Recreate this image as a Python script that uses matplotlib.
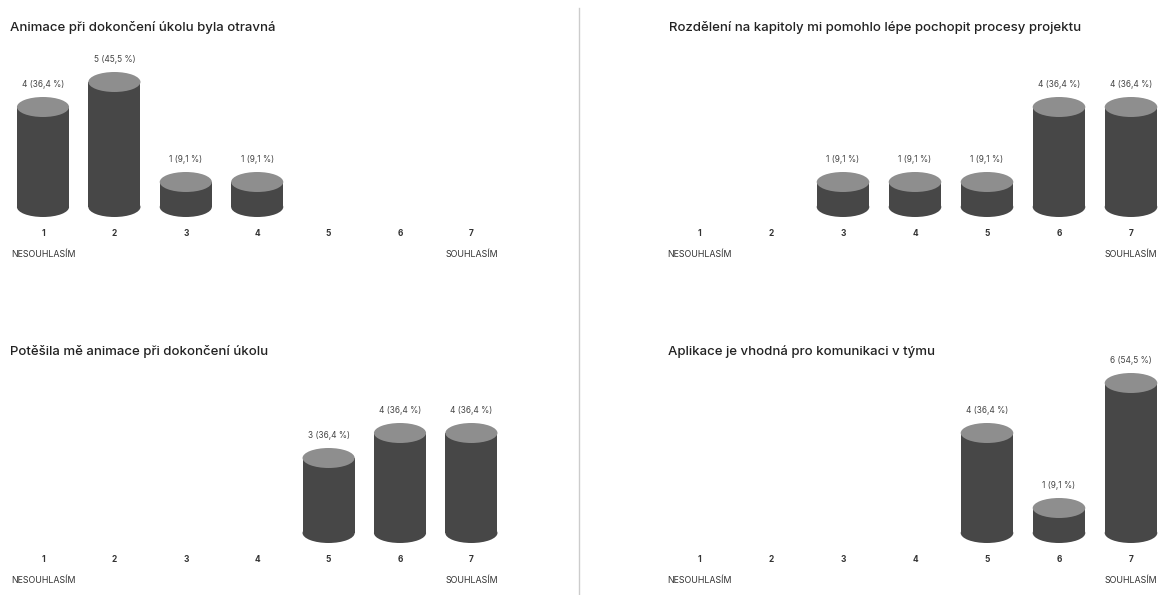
import matplotlib
matplotlib.use("Agg")
import matplotlib.pyplot as plt
from matplotlib.patches import Ellipse, Rectangle
from matplotlib.lines import Line2D

plt.rcParams["font.family"] = ["Inter", "DejaVu Sans"]

CATEGORIES = [1, 2, 3, 4, 5, 6, 7]

TITLE_1 = "Animace při dokončení úkolu byla otravná"
COUNTS_1 = [4, 5, 1, 1, 0, 0, 0]
PERCENT_1 = [36.4, 45.5, 9.1, 9.1, 0, 0, 0]

TITLE_2 = "Rozdělení na kapitoly mi pomohlo lépe pochopit procesy projektu"
COUNTS_2 = [0, 0, 1, 1, 1, 4, 4]
PERCENT_2 = [0, 0, 9.1, 9.1, 9.1, 36.4, 36.4]

TITLE_3 = "Potěšila mě animace při dokončení úkolu"
COUNTS_3 = [0, 0, 0, 0, 3, 4, 4]
PERCENT_3 = [0, 0, 0, 0, 36.4, 36.4, 36.4]

TITLE_4 = "Aplikace je vhodná pro komunikaci v týmu"
COUNTS_4 = [0, 0, 0, 0, 4, 1, 6]
PERCENT_4 = [0, 0, 0, 0, 36.4, 9.1, 54.5]

LOW_LABEL = "NESOUHLASÍM"
HIGH_LABEL = "SOUHLASÍM"

W, H = 1158, 595
UNIT = 25  # pixels per answer
BODY = "#474747"
TOP = "#8e8e8e"


def make_axes(fig, first_px, spacing, base_px):
    left = first_px - 0.5 * spacing
    width = 7 * spacing
    bottom = base_px + 0.8 * UNIT
    height = 7.8 * UNIT
    ax = fig.add_axes([left / W, 1 - bottom / H, width / W, height / H])
    ax.set_xlim(0.5, 7.5)
    ax.set_ylim(-0.8, 7.0)
    ax.set_facecolor("none")
    for spine in ax.spines.values():
        spine.set_visible(False)
    ax.set_yticks([])
    ax.set_xticks(CATEGORIES)
    ax.set_xticklabels([str(c) for c in CATEGORIES], fontsize=6,
                       fontweight="bold", color="#333333")
    ax.tick_params(axis="x", length=0, pad=1.5)
    return ax


def draw_panel(ax, title, counts, percents, title_px, title_py):
    bar_w = 0.73
    cap_h = 0.8
    for cat, count, pct in zip(CATEGORIES, counts, percents):
        if count == 0:
            continue
        ax.add_patch(Ellipse((cat, 0), bar_w, cap_h, facecolor=BODY,
                             edgecolor="none", zorder=2, clip_on=False))
        ax.add_patch(Rectangle((cat - bar_w / 2, 0), bar_w, count,
                               facecolor=BODY, edgecolor="none", zorder=2,
                               clip_on=False))
        ax.add_patch(Ellipse((cat, count), bar_w, cap_h, facecolor=TOP,
                             edgecolor="none", zorder=3, clip_on=False))
        label = f"{count} ({pct:.1f} %)".replace(".", ",")
        ax.annotate(label, xy=(cat, count), xytext=(0, 16.5),
                    textcoords="offset points", ha="center", va="center",
                    fontsize=6, color="#444444")

    ax.annotate(LOW_LABEL, xy=(CATEGORIES[0], 0), xytext=(0, -34),
                textcoords="offset points", ha="center", va="center",
                fontsize=6.4, color="#333333")
    ax.annotate(HIGH_LABEL, xy=(CATEGORIES[-1], 0), xytext=(0, -34),
                textcoords="offset points", ha="center", va="center",
                fontsize=6.4, color="#333333")
    ax.figure.text(title_px / W, 1 - title_py / H, title, ha="left",
                   va="center", fontsize=9.5, fontweight="medium",
                   color="#222222")


def main():
    fig = plt.figure(figsize=(W / 100, H / 100), dpi=100)
    fig.patch.set_facecolor("white")

    ax1 = make_axes(fig, 43, 71.4, 207)
    ax2 = make_axes(fig, 699, 72, 207)
    ax3 = make_axes(fig, 43, 71.4, 533)
    ax4 = make_axes(fig, 699, 72, 533)

    draw_panel(ax1, TITLE_1, COUNTS_1, PERCENT_1, 10, 27)
    draw_panel(ax2, TITLE_2, COUNTS_2, PERCENT_2, 669, 27)
    draw_panel(ax3, TITLE_3, COUNTS_3, PERCENT_3, 10, 352)
    draw_panel(ax4, TITLE_4, COUNTS_4, PERCENT_4, 668, 352)

    fig.add_artist(Line2D([579 / W, 579 / W], [0, 1 - 8 / H],
                          transform=fig.transFigure, color="#cccccc",
                          linewidth=1))

    fig.savefig("out.png", dpi=100, facecolor="white")


if __name__ == "__main__":
    main()
